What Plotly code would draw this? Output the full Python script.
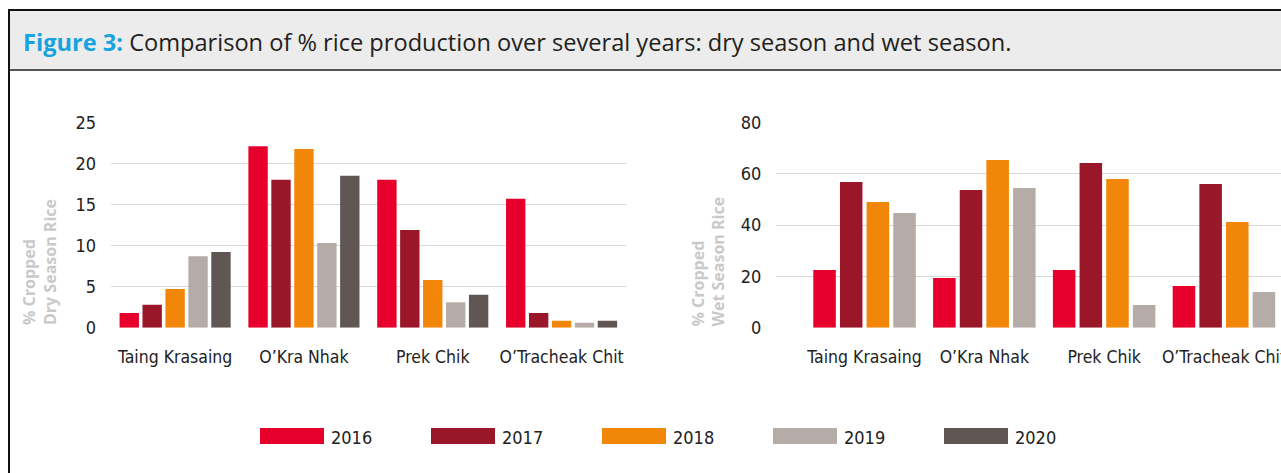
import plotly.graph_objects as go

W, H = 1281, 473

# ---- data ----
categories = ["Taing Krasaing", "O\u2019Kra Nhak", "Prek Chik", "O\u2019Tracheak Chit"]
years = ["2016", "2017", "2018", "2019", "2020"]
colors = ["#e8002c", "#9a1629", "#f18608", "#b5aca8", "#605653"]

dry_2016 = [1.8, 22.1, 18.0, 15.7]
dry_2017 = [2.8, 18.0, 11.9, 1.8]
dry_2018 = [4.7, 21.75, 5.8, 0.85]
dry_2019 = [8.7, 10.3, 3.1, 0.6]
dry_2020 = [9.2, 18.5, 4.0, 0.85]

wet_2016 = [22.5, 19.4, 22.5, 16.2]
wet_2017 = [56.7, 53.6, 64.1, 56.0]
wet_2018 = [49.0, 65.3, 57.9, 41.2]
wet_2019 = [44.7, 54.4, 8.8, 13.9]

dry_series = [dry_2016, dry_2017, dry_2018, dry_2019, dry_2020]
wet_series = [wet_2016, wet_2017, wet_2018, wet_2019]

title_lead = "Figure 3:"
title_rest = " Comparison of % rice production over several years: dry season and wet season."
dry_title = "% Cropped<br>Dry Season Rice"
wet_title = "% Cropped<br>Wet Season Rice"


def px(x):
    return x / W


def py(y):
    return 1 - y / H


NARROW = "Liberation Sans Narrow, DejaVu Sans Condensed, Arial Narrow, sans-serif"

fig = go.Figure()
for yr, col, vals in zip(years, colors, dry_series):
    fig.add_trace(go.Bar(x=categories, y=vals, name=yr, marker=dict(color=col, line=dict(width=0)),
                         xaxis="x", yaxis="y", showlegend=False))
for yr, col, vals in zip(years, colors, wet_series):
    fig.add_trace(go.Bar(x=categories, y=vals, name=yr, marker=dict(color=col, line=dict(width=0)),
                         xaxis="x2", yaxis="y2", showlegend=False))

ydom = [py(327.7), py(122.3)]
axis_common = dict(showline=False, zeroline=False, fixedrange=True, automargin=False)
tickfont = dict(family=NARROW, size=17.5, color="#222222")

fig.update_layout(
    width=W, height=H,
    margin=dict(l=0, r=0, t=0, b=0, pad=0, autoexpand=False),
    paper_bgcolor="white", plot_bgcolor="rgba(0,0,0,0)",
    barmode="group", bargap=0.11, bargroupgap=0.155,
    xaxis=dict(domain=[px(110.7), px(626)], type="category", range=[-0.5, 3.5],
               showgrid=False, ticks="outside", ticklen=13, tickcolor="rgba(0,0,0,0)",
               tickfont=tickfont, anchor="y", **axis_common),
    yaxis=dict(domain=ydom, range=[0, 25], dtick=5, showgrid=True, gridcolor="#d9d9d9", gridwidth=1.2,
               ticks="outside", ticklen=10, tickcolor="rgba(0,0,0,0)",
               tickfont=dict(family=NARROW, size=18, color="#222222"), anchor="x", **axis_common),
    xaxis2=dict(domain=[px(776), 1.0], type="category", range=[-0.739, 3.476],
                showgrid=False, ticks="outside", ticklen=13, tickcolor="rgba(0,0,0,0)",
                tickfont=tickfont, anchor="y2", **axis_common),
    yaxis2=dict(domain=ydom, range=[0, 80], dtick=20, showgrid=True, gridcolor="#d9d9d9", gridwidth=1.2,
                ticks="outside", ticklen=10, tickcolor="rgba(0,0,0,0)",
                tickfont=dict(family=NARROW, size=18, color="#222222"), anchor="x2", **axis_common),
)

shapes = [
    # header band
    dict(type="rect", xref="paper", yref="paper", x0=px(9), x1=1.0, y0=py(70), y1=py(10),
         fillcolor="#ececec", line=dict(width=0), layer="below"),
    dict(type="line", xref="paper", yref="paper", x0=px(9), x1=1.0, y0=py(10), y1=py(10),
         line=dict(color="#111111", width=2)),
    dict(type="line", xref="paper", yref="paper", x0=px(9), x1=1.0, y0=py(70), y1=py(70),
         line=dict(color="#555555", width=2)),
    dict(type="line", xref="paper", yref="paper", x0=px(9), x1=px(9), y0=0, y1=py(9),
         line=dict(color="#111111", width=2)),
]

annotations = [
    dict(xref="paper", yref="paper", x=px(21), y=py(42), xanchor="left", yanchor="middle",
         text=f"<b><span style='color:#17a2e0'>{title_lead}</span></b>{title_rest}",
         showarrow=False, font=dict(family="Open Sans, sans-serif", size=23.6, color="#231f20")),
    dict(xref="paper", yref="paper", x=px(39), y=py(262), xanchor="center", yanchor="middle",
         text=dry_title, textangle=-90, align="left", showarrow=False,
         font=dict(family="Open Sans, sans-serif", size=16, color="#c9c9c9", weight="bold")),
    dict(xref="paper", yref="paper", x=px(707.5), y=py(261), xanchor="center", yanchor="middle",
         text=wet_title, textangle=-90, align="left", showarrow=False,
         font=dict(family="Open Sans, sans-serif", size=16, color="#c9c9c9", weight="bold")),
]

# custom legend (wide swatches)
leg_x0, leg_step, sw_w = 260, 171, 64
for i, (yr, col) in enumerate(zip(years, colors)):
    x0 = leg_x0 + i * leg_step
    shapes.append(dict(type="rect", xref="paper", yref="paper", x0=px(x0), x1=px(x0 + sw_w),
                       y0=py(444), y1=py(428), fillcolor=col, line=dict(width=0)))
    annotations.append(dict(xref="paper", yref="paper", x=px(x0 + sw_w + 5), y=py(437),
                            xanchor="left", yanchor="middle", text=yr, showarrow=False,
                            font=dict(family=NARROW, size=18, color="#222222")))

fig.update_layout(shapes=shapes, annotations=annotations)
fig.write_html("out.html", config={"displayModeBar": False},
               post_script="document.body.style.margin='0';document.body.style.overflow='hidden';")
